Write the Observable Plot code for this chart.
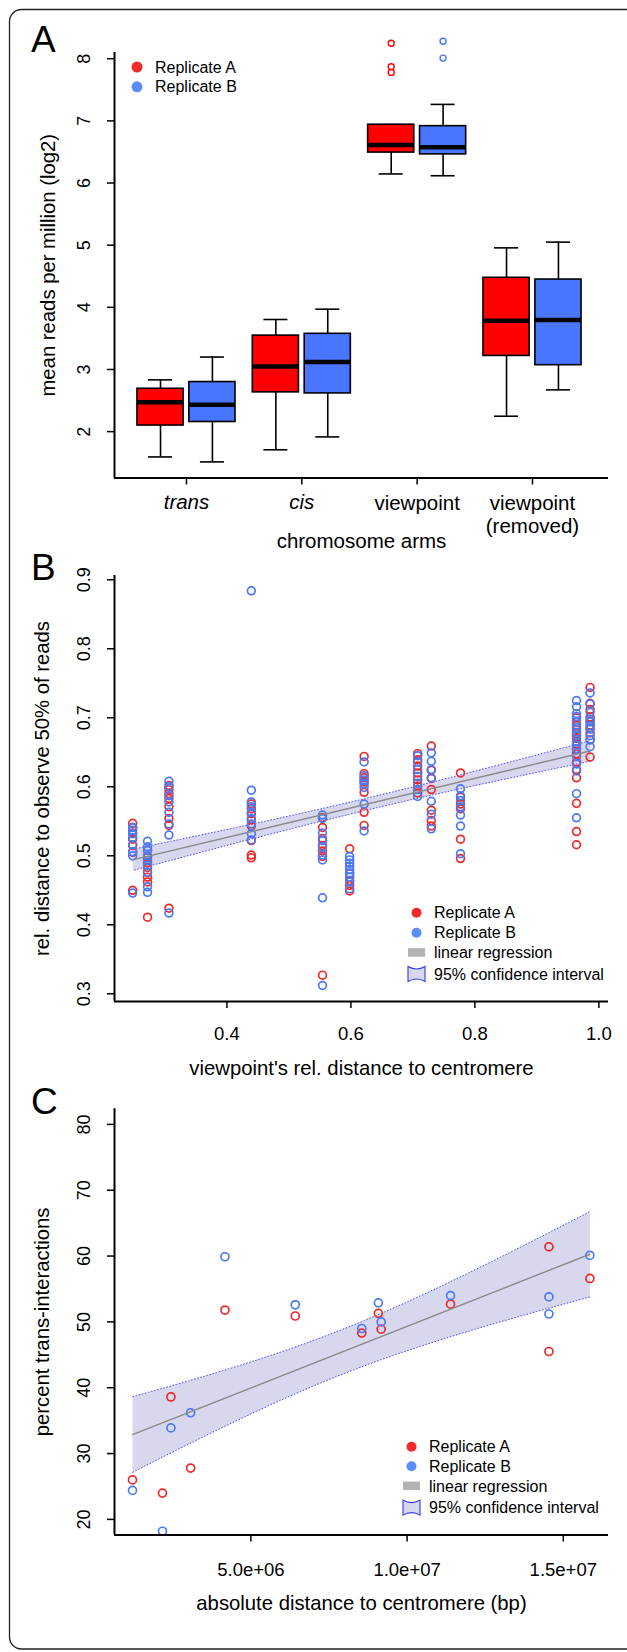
<!DOCTYPE html>
<html>
<head>
<meta charset="utf-8">
<script src="https://cdn.jsdelivr.net/npm/d3@7"></script>
<script src="https://cdn.jsdelivr.net/npm/@observablehq/plot@0.6"></script>
<style>
  body { margin: 0; background: #fff; }
  #page { position: relative; width: 627px; height: 1652px; overflow: hidden; background: #fff; font-family: "Liberation Sans", Arial, Helvetica, sans-serif; }
  .panel { position: absolute; left: 0; width: 627px; }
  #overlay { position: absolute; left: 0; top: 0; pointer-events: none; }
</style>
</head>
<body>
<div id="page">
  <div class="panel" id="pa" style="top:0px"></div>
  <div class="panel" id="pb" style="top:540px"></div>
  <div class="panel" id="pc" style="top:1080px"></div>
</div>
<script>
// ---------------- DATA ----------------
// Panel A: box-plot summaries (log2 mean reads per million)
const catsA = ["trans", "cis", "viewpoint", "viewpoint\n(removed)"];
const repA_low  = [1.593, 1.708, 6.146, 2.248];
const repA_q1   = [2.098, 2.632, 6.490, 3.218];
const repA_med  = [2.471, 3.046, 6.611, 3.786];
const repA_q3   = [2.690, 3.545, 6.938, 4.475];
const repA_high = [2.833, 3.804, 6.938, 4.957];
const repB_low  = [1.513, 1.915, 6.117, 2.672];
const repB_q1   = [2.155, 2.615, 6.461, 3.069];
const repB_med  = [2.431, 3.120, 6.576, 3.798];
const repB_q3   = [2.798, 3.574, 6.915, 4.447];
const repB_high = [3.200, 3.970, 7.265, 5.049];
const repA_outCat = [3, 3, 3];
const repA_outVal = [8.25, 7.87, 7.78];
const repB_outCat = [3, 3];
const repB_outVal = [8.28, 8.01];
const yTicksA = [2, 3, 4, 5, 6, 7, 8];

// Panel B: relative distances per viewpoint
const bColumnsX = [0.248, 0.272, 0.3065, 0.4394, 0.5542, 0.598, 0.6213, 0.7077, 0.7297, 0.7768, 0.9639, 0.9858];
const bRepA = [
  [0.547, 0.541, 0.533, 0.524, 0.515, 0.505, 0.450],
  [0.508, 0.498, 0.490, 0.483, 0.476, 0.469, 0.462, 0.411],
  [0.602, 0.596, 0.590, 0.583, 0.571, 0.554, 0.544, 0.424],
  [0.575, 0.568, 0.561, 0.552, 0.543, 0.522, 0.501, 0.497],
  [0.555, 0.541, 0.525, 0.515, 0.507, 0.499, 0.327],
  [0.510, 0.474, 0.464, 0.457, 0.449],
  [0.644, 0.619, 0.613, 0.607, 0.592, 0.563, 0.544],
  [0.648, 0.639, 0.630, 0.620, 0.610, 0.601, 0.591],
  [0.659, 0.624, 0.612, 0.596, 0.566, 0.551, 0.543],
  [0.620, 0.585, 0.575, 0.568, 0.524, 0.496],
  [0.700, 0.689, 0.683, 0.677, 0.670, 0.662, 0.655, 0.648, 0.636, 0.625, 0.613, 0.576, 0.535, 0.516],
  [0.744, 0.721, 0.712, 0.701, 0.695, 0.689, 0.684, 0.678, 0.668, 0.643]
];
const bRepB = [
  [0.541, 0.537, 0.532, 0.526, 0.516, 0.506, 0.500, 0.446],
  [0.521, 0.513, 0.508, 0.500, 0.493, 0.486, 0.476, 0.455, 0.447],
  [0.608, 0.600, 0.587, 0.578, 0.563, 0.546, 0.530, 0.417],
  [0.884, 0.595, 0.578, 0.571, 0.563, 0.554, 0.546, 0.532, 0.523],
  [0.559, 0.554, 0.533, 0.522, 0.513, 0.501, 0.494, 0.439, 0.312],
  [0.499, 0.494, 0.489, 0.485, 0.480, 0.475, 0.469, 0.462, 0.452],
  [0.636, 0.616, 0.610, 0.604, 0.599, 0.575, 0.536],
  [0.645, 0.636, 0.625, 0.615, 0.605, 0.596, 0.586],
  [0.649, 0.637, 0.625, 0.613, 0.579, 0.560, 0.539],
  [0.597, 0.587, 0.580, 0.571, 0.559, 0.543, 0.503],
  [0.725, 0.716, 0.706, 0.702, 0.694, 0.686, 0.679, 0.674, 0.665, 0.660, 0.655, 0.644, 0.633, 0.623, 0.590, 0.555],
  [0.736, 0.720, 0.708, 0.698, 0.694, 0.688, 0.684, 0.674, 0.668, 0.658]
];
const xTicksB = [0.4, 0.6, 0.8, 1.0];
const yTicksB = [0.3, 0.4, 0.5, 0.6, 0.7, 0.8, 0.9];

// Panel C: absolute distance (bp) vs percent trans-interactions
const cDist = [1.21e6, 2.17e6, 2.44e6, 3.07e6, 4.17e6, 6.42e6, 8.55e6, 9.08e6, 9.17e6, 11.39e6, 14.54e6, 14.54e6, 15.85e6];
const cRepA = [26.0, 24.0, 38.6, 27.8, 51.8, 50.9, 48.3, 51.3, 48.9, 52.7, 61.4, 45.5, 56.6];
const cRepB = [24.4, 18.2, 33.9, 36.2, 59.9, 52.6, 49.0, 52.9, 50.0, 54.0, 53.8, 51.2, 60.1];
const xTicksC = [5e6, 1e7, 1.5e7];
const yTicksC = [20, 30, 40, 50, 60, 70, 80];

// ---------------- STYLE ----------------
const FONT = '"Liberation Sans", Arial, Helvetica, sans-serif';
const BOX_RED = "#ff0000", BOX_BLUE = "#4876ff";
const PT_RED = "#ee2a2a", PT_BLUE = "#4a7af5";
const LEG_RED = "#f22a2a", LEG_BLUE = "#5b8cff";
const BAND = "#d7d8ee", REG = "#8a8a8a", BAND_EDGE = "#3535ff";

const baseStyle = {background: "transparent", fontFamily: FONT, fontSize: "18px", overflow: "visible", color: "#000"};
const noArrow = {labelArrow: "none"};

// ---------------- PANEL A ----------------
const xDomainA = [0.376, 4.659];
const yDomainA = [1.254, 8.1];
const boxOff = 0.225, boxHalf = 0.2, capHalf = 0.104;
const boxesA = catsA.map((c, i) => ({pos: i + 1 - boxOff, low: repA_low[i], q1: repA_q1[i], med: repA_med[i], q3: repA_q3[i], high: repA_high[i]}));
const boxesB = catsA.map((c, i) => ({pos: i + 1 + boxOff, low: repB_low[i], q1: repB_q1[i], med: repB_med[i], q3: repB_q3[i], high: repB_high[i]}));
const outA = repA_outCat.map((c, i) => ({pos: c - boxOff, v: repA_outVal[i]}));
const outB = repB_outCat.map((c, i) => ({pos: c + boxOff, v: repB_outVal[i]}));

function boxMarks(data, fill) {
  return [
    Plot.ruleX(data, {x: "pos", y1: "low", y2: "q1", stroke: "#000", strokeWidth: 1.6}),
    Plot.ruleX(data, {x: "pos", y1: "q3", y2: "high", stroke: "#000", strokeWidth: 1.6}),
    Plot.ruleY(data, {y: "low", x1: d => d.pos - capHalf, x2: d => d.pos + capHalf, stroke: "#000", strokeWidth: 1.6}),
    Plot.ruleY(data, {y: "high", x1: d => d.pos - capHalf, x2: d => d.pos + capHalf, stroke: "#000", strokeWidth: 1.6}),
    Plot.rect(data, {x1: d => d.pos - boxHalf, x2: d => d.pos + boxHalf, y1: "q1", y2: "q3", fill, stroke: "#000", strokeWidth: 1.6}),
    Plot.ruleY(data, {y: "med", x1: d => d.pos - boxHalf, x2: d => d.pos + boxHalf, stroke: "#000", strokeWidth: 4.5})
  ];
}

const plotA = Plot.plot({
  width: 627, height: 560,
  marginTop: 52, marginBottom: 82.5, marginLeft: 114, marginRight: 19,
  style: baseStyle,
  x: {domain: xDomainA},
  y: {domain: yDomainA},
  marks: [
    ...boxMarks(boxesA, BOX_RED),
    ...boxMarks(boxesB, BOX_BLUE),
    Plot.dot(outA, {x: "pos", y: "v", r: 3, stroke: BOX_RED, strokeWidth: 1.4, fill: "none"}),
    Plot.dot(outB, {x: "pos", y: "v", r: 3, stroke: BOX_BLUE, strokeWidth: 1.4, fill: "none"}),
    Plot.ruleX([xDomainA[0]], {stroke: "#000", strokeWidth: 2}),
    Plot.ruleY([yDomainA[0]], {stroke: "#000", strokeWidth: 2}),
    Plot.axisY(yTicksA, {tickRotate: -90, tickSize: 7, tickPadding: 18, fontSize: 18, tickFormat: d3.format("d"), strokeWidth: 1.5, label: null}),
    Plot.axisY(yTicksA, {...noArrow, tickSize: 0, tickFormat: () => "", fontSize: 20.3, label: "mean reads per million (log2)", labelAnchor: "center", labelOffset: 74}),
    Plot.axisX([1, 2], {tickFormat: v => catsA[v - 1], fontStyle: "italic", fontSize: 20.5, tickSize: 7, tickPadding: 9, strokeWidth: 1.5, label: null}),
    Plot.axisX([3, 4], {...noArrow, tickFormat: v => catsA[v - 1], fontSize: 20.5, lineHeight: 1.12, tickSize: 7, tickPadding: 9, strokeWidth: 1.5, label: "chromosome arms", labelAnchor: "center", labelOffset: 69.5})
  ]
});
document.getElementById("pa").append(plotA);

// ---------------- PANEL B ----------------
const xDomainB = [0.2187, 1.0155];
const yDomainB = [0.2888, 0.9062];
const bA = bColumnsX.flatMap((x, i) => bRepA[i].map(y => ({x, y})));
const bB = bColumnsX.flatMap((x, i) => bRepB[i].map(y => ({x, y})));
const bAll = bA.concat(bB);

const plotB = Plot.plot({
  width: 627, height: 545,
  marginTop: 35, marginBottom: 84, marginLeft: 114, marginRight: 19,
  style: baseStyle,
  x: {domain: xDomainB},
  y: {domain: yDomainB},
  marks: [
    Plot.linearRegressionY(bAll, {x: "x", y: "y", stroke: "none", fill: BAND, fillOpacity: 1, ci: 0.95}),
    Plot.dot(bA, {x: "x", y: "y", r: 3.9, stroke: PT_RED, strokeWidth: 1.7, fill: "none"}),
    Plot.dot(bB, {x: "x", y: "y", r: 3.9, stroke: PT_BLUE, strokeWidth: 1.7, fill: "none"}),
    Plot.linearRegressionY(bAll, {x: "x", y: "y", stroke: REG, strokeWidth: 1.4, fill: "none"}),
    Plot.ruleX([xDomainB[0]], {stroke: "#000", strokeWidth: 2}),
    Plot.ruleY([yDomainB[0]], {stroke: "#000", strokeWidth: 2}),
    Plot.axisY(yTicksB, {tickRotate: -90, tickSize: 7, tickPadding: 18, fontSize: 18, tickFormat: d3.format(".1f"), strokeWidth: 1.5, label: null}),
    Plot.axisY(yTicksB, {...noArrow, tickSize: 0, tickFormat: () => "", fontSize: 20.3, label: "rel. distance to observe 50% of reads", labelAnchor: "center", labelOffset: 80}),
    Plot.axisX(xTicksB, {tickSize: 7, tickPadding: 18.5, fontSize: 18.5, tickFormat: d3.format(".1f"), strokeWidth: 1.5, label: null}),
    Plot.axisX(xTicksB, {...noArrow, tickSize: 0, tickFormat: () => "", fontSize: 20.3, label: "viewpoint's rel. distance to centromere", labelAnchor: "center", labelOffset: 73})
  ]
});
document.getElementById("pb").append(plotB);

// ---------------- PANEL C ----------------
const xDomainC = [0.634e6, 1.6447e7];
const yDomainC = [17.63, 82.37];
const cA = cDist.map((x, i) => ({x, y: cRepA[i]}));
const cB = cDist.map((x, i) => ({x, y: cRepB[i]}));
const cAll = cA.concat(cB);
const sciFmt = d => d.toExponential(1).replace(/e([+-])(\d)$/, "e$10$2");

const plotC = Plot.plot({
  width: 627, height: 572,
  marginTop: 28.3, marginBottom: 117.5, marginLeft: 114, marginRight: 19,
  style: baseStyle,
  x: {domain: xDomainC},
  y: {domain: yDomainC},
  marks: [
    Plot.linearRegressionY(cAll, {x: "x", y: "y", stroke: "none", fill: BAND, fillOpacity: 1, ci: 0.95}),
    Plot.dot(cA, {x: "x", y: "y", r: 4, stroke: PT_RED, strokeWidth: 1.7, fill: "none"}),
    Plot.dot(cB, {x: "x", y: "y", r: 4, stroke: PT_BLUE, strokeWidth: 1.7, fill: "none"}),
    Plot.linearRegressionY(cAll, {x: "x", y: "y", stroke: REG, strokeWidth: 1.4, fill: "none"}),
    Plot.ruleX([xDomainC[0]], {stroke: "#000", strokeWidth: 2}),
    Plot.ruleY([yDomainC[0]], {stroke: "#000", strokeWidth: 2}),
    Plot.axisY(yTicksC, {tickRotate: -90, tickSize: 7, tickPadding: 18, fontSize: 18, tickFormat: d3.format("d"), strokeWidth: 1.5, label: null}),
    Plot.axisY(yTicksC, {...noArrow, tickSize: 0, tickFormat: () => "", fontSize: 20.3, label: "percent trans-interactions", labelAnchor: "center", labelOffset: 80}),
    Plot.axisX(xTicksC, {tickSize: 7, tickPadding: 21, fontSize: 18.5, tickFormat: sciFmt, strokeWidth: 1.5, label: null}),
    Plot.axisX(xTicksC, {...noArrow, tickSize: 0, tickFormat: () => "", fontSize: 20.3, label: "absolute distance to centromere (bp)", labelAnchor: "center", labelOffset: 74.5})
  ]
});
document.getElementById("pc").append(plotC);

// strip any label arrows Plot may add
for (const svg of [plotA, plotB, plotC]) {
  svg.querySelectorAll("text").forEach(t => {
    const s = t.textContent;
    if (/[→←↑↓]/.test(s)) t.textContent = s.replace(/\s*[→←↑↓]\s*/g, "").trim();
  });
}
// dotted blue edges along the upper and lower bounds of each confidence band (not the ends)
for (const svg of [plotB, plotC]) {
  const g = svg.querySelectorAll('g[aria-label="linear-regression"]')[0];
  if (!g) continue;
  g.querySelectorAll("path").forEach(p => {
    const d = p.getAttribute("d") || "";
    if (!/Z\s*$/i.test(d)) return;
    const pts = [...d.matchAll(/(-?\d*\.?\d+(?:e[-+]?\d+)?),(-?\d*\.?\d+(?:e[-+]?\d+)?)/gi)].map(m => [+m[1], +m[2]]);
    const n = Math.floor(pts.length / 2);
    for (const part of [pts.slice(0, n), pts.slice(n)]) {
      const e = document.createElementNS("http://www.w3.org/2000/svg", "path");
      e.setAttribute("d", "M" + part.map(q => q.join(",")).join("L"));
      e.setAttribute("fill", "none");
      e.setAttribute("stroke", BAND_EDGE);
      e.setAttribute("stroke-width", "0.9");
      e.setAttribute("stroke-dasharray", "1.6,1.6");
      p.parentNode.appendChild(e);
    }
  });
}

// ---------------- OVERLAY: border, panel letters, legends ----------------
const ov = d3.select("#page").append("svg").attr("id", "overlay").attr("width", 627).attr("height", 1652);
ov.append("rect").attr("x", 9.5).attr("y", 9.5).attr("width", 640).attr("height", 1639.5).attr("rx", 12)
  .attr("fill", "none").attr("stroke", "#222").attr("stroke-width", 1.3);

const letters = [["A", 52], ["B", 580], ["C", 1113.5]];
letters.forEach(([t, y]) => ov.append("text").attr("x", 31).attr("y", y).attr("font-family", FONT).attr("font-size", 37).text(t));

function legend(symX, textX, rows, items) {
  items.forEach((it, i) => {
    const y = rows[i];
    if (it.type === "dot") {
      ov.append("circle").attr("cx", symX).attr("cy", y).attr("r", it.r).attr("fill", it.color);
    } else if (it.type === "rect") {
      ov.append("rect").attr("x", symX - 8.5).attr("y", y - 4.5).attr("width", 17).attr("height", 8.5).attr("fill", "#b3b3b3");
    } else if (it.type === "ci") {
      const x0 = symX - 8.5, x1 = symX + 8.5, y0 = y - 7.5, y1 = y + 7.5;
      ov.append("path").attr("d", `M${x0},${y0} Q${symX},${y0 + 5} ${x1},${y0} L${x1},${y1} Q${symX},${y1 - 5} ${x0},${y1} Z`)
        .attr("fill", BAND).attr("stroke", BAND_EDGE).attr("stroke-width", 1.1);
    }
    ov.append("text").attr("x", textX).attr("y", y).attr("dy", "0.35em").attr("font-family", FONT).attr("font-size", 16).text(it.label);
  });
}
legend(137, 155, [67, 86.8], [
  {type: "dot", r: 5.5, color: LEG_RED, label: "Replicate A"},
  {type: "dot", r: 5.5, color: LEG_BLUE, label: "Replicate B"}
]);
const fullLegend = [
  {type: "dot", r: 5, color: LEG_RED, label: "Replicate A"},
  {type: "dot", r: 5, color: LEG_BLUE, label: "Replicate B"},
  {type: "rect", label: "linear regression"},
  {type: "ci", label: "95% confidence interval"}
];
legend(416.5, 434, [912.7, 932.7, 952.7, 974], fullLegend);
legend(411.5, 429, [1446.7, 1466.2, 1486.1, 1507.6], fullLegend);
</script>
</body>
</html>
